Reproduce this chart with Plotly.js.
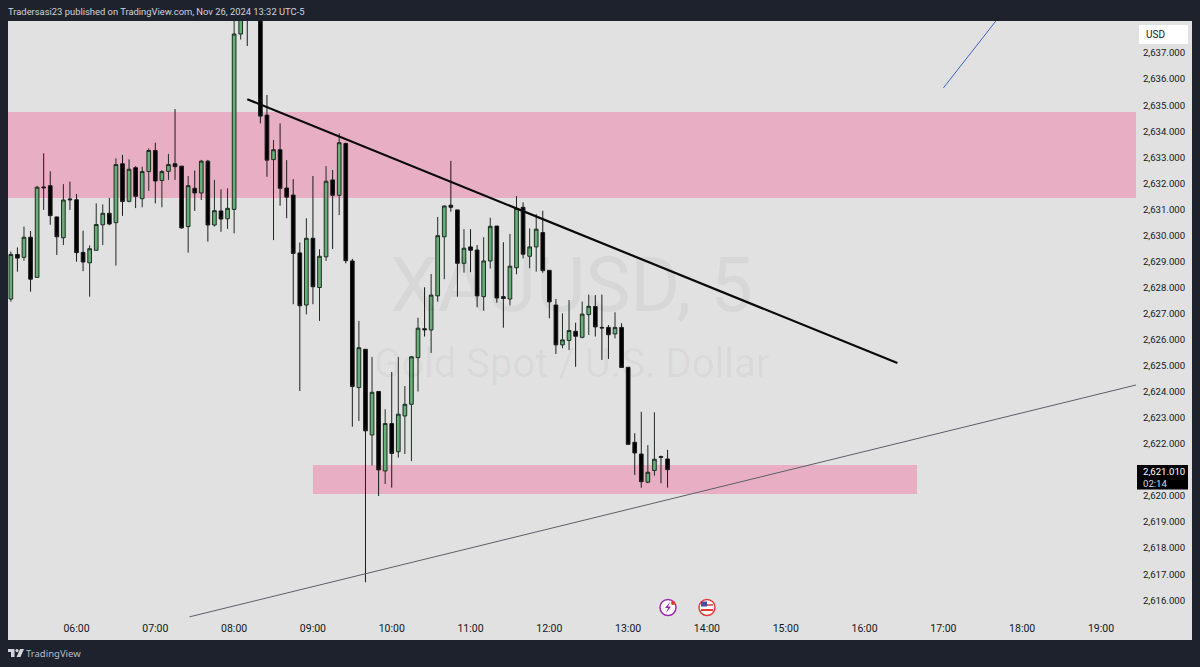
<!DOCTYPE html>
<html><head><meta charset="utf-8">
<script src="https://cdn.plot.ly/plotly-3.0.1.min.js"></script>
<style>html,body{margin:0;padding:0;background:#1e222d;overflow:hidden}</style></head>
<body><div id="chart" style="width:1200px;height:667px"></div>
<script>
const day = "2024-11-26 ";
const times = ["05:10","05:15","05:20","05:25","05:30","05:35","05:40","05:45","05:50","05:55",
"06:00","06:05","06:10","06:15","06:20","06:25","06:30","06:35","06:40","06:45","06:50","06:55",
"07:00","07:05","07:10","07:15","07:20","07:25","07:30","07:35","07:40","07:45","07:50","07:55",
"08:00","08:05","08:10","08:15","08:20","08:25","08:30","08:35","08:40","08:45","08:50","08:55",
"09:00","09:05","09:10","09:15","09:20","09:25","09:30","09:35","09:40","09:45","09:50","09:55",
"10:00","10:05","10:10","10:15","10:20","10:25","10:30","10:35","10:40","10:45","10:50","10:55",
"11:00","11:05","11:10","11:15","11:20","11:25","11:30","11:35","11:40","11:45","11:50","11:55",
"12:00","12:05","12:10","12:15","12:20","12:25","12:30","12:35","12:40","12:45","12:50","12:55",
"13:00","13:05","13:10","13:15","13:20","13:25","13:30"];
const opens = [2627.56,2629.27,2629.16,2629.93,2628.39,2631.86,2631.91,2630.71,2629.91,2631.40,
2631.37,2629.35,2628.95,2629.43,2630.41,2630.85,2630.49,2632.75,2631.31,2632.60,2631.41,2632.45,
2633.26,2632.11,2632.46,2632.75,2632.66,2630.34,2631.81,2631.63,2632.85,2630.40,2630.94,2630.64,
2631.00,2637.73,2639.60,2640.40,2639.50,2634.62,2632.91,2633.29,2631.82,2631.55,2629.33,2627.33,
2629.89,2628.00,2629.18,2632.13,2631.54,2633.53,2629.02,2624.16,2625.63,2622.34,2624.01,2620.96,
2622.78,2621.70,2623.07,2623.52,2625.31,2626.42,2626.37,2627.68,2629.95,2631.16,2630.98,2628.93,
2629.56,2629.44,2627.65,2629.02,2630.36,2627.65,2627.56,2628.76,2631.08,2629.20,2629.56,2630.11,
2628.66,2627.33,2625.80,2625.97,2626.32,2626.09,2626.96,2627.27,2626.47,2626.47,2626.22,2626.47,
2624.94,2622.06,2621.61,2620.53,2620.98,2621.51,2621.42];
const highs = [2629.38,2629.54,2630.34,2630.17,2631.90,2633.15,2632.46,2630.72,2631.97,2632.06,
2631.59,2630.18,2629.62,2631.23,2631.19,2631.44,2632.96,2633.09,2632.92,2632.66,2632.64,2633.34,
2633.56,2632.51,2633.13,2634.85,2632.66,2632.28,2632.49,2632.90,2632.90,2632.13,2631.77,2631.81,
2639.20,2639.60,2640.00,2640.80,2639.80,2635.39,2633.66,2634.30,2632.89,2632.16,2629.73,2630.66,
2632.28,2629.47,2632.66,2632.51,2633.92,2633.56,2629.10,2626.72,2625.64,2625.34,2624.03,2623.33,
2624.76,2625.34,2624.22,2625.36,2626.84,2628.01,2628.52,2630.71,2631.15,2632.86,2630.98,2630.24,
2630.24,2629.63,2629.93,2630.68,2630.36,2629.74,2630.06,2631.51,2631.27,2630.27,2630.82,2630.95,
2628.67,2627.56,2627.01,2627.52,2626.65,2627.46,2627.73,2627.71,2627.73,2626.56,2627.05,2626.63,
2624.94,2622.41,2623.23,2621.95,2623.21,2621.55,2621.77];
const lows = [2627.46,2628.61,2629.03,2627.84,2628.39,2630.98,2630.41,2629.25,2629.63,2630.98,
2628.99,2628.63,2627.65,2629.43,2629.63,2630.39,2628.84,2630.75,2631.27,2631.05,2631.08,2631.71,
2631.23,2631.08,2632.13,2632.13,2630.26,2629.34,2630.94,2631.36,2629.76,2630.34,2630.14,2630.25,
2630.08,2637.52,2637.27,2639.20,2634.30,2632.25,2629.82,2631.14,2630.66,2627.36,2624.03,2626.97,
2627.36,2626.72,2629.02,2629.48,2630.78,2628.93,2622.66,2622.88,2616.69,2621.17,2620.00,2620.46,
2620.32,2621.47,2621.61,2621.34,2624.01,2626.12,2625.49,2627.46,2628.32,2630.91,2627.65,2628.57,
2628.59,2627.24,2627.11,2628.73,2627.42,2626.46,2627.31,2628.51,2629.12,2628.74,2628.61,2628.57,
2626.82,2625.45,2625.67,2625.60,2624.96,2626.05,2626.18,2626.12,2625.22,2625.26,2626.05,2624.93,
2621.98,2620.81,2620.32,2620.49,2620.78,2620.49,2620.32];
const closes = [2629.27,2629.13,2629.93,2628.32,2631.85,2631.83,2630.76,2629.95,2631.36,2631.37,
2629.34,2628.98,2629.49,2630.42,2630.85,2630.44,2632.72,2631.30,2632.54,2631.50,2632.45,2633.26,
2632.09,2632.45,2632.72,2632.64,2630.29,2631.91,2631.63,2632.85,2630.40,2630.95,2630.63,2631.04,
2637.73,2639.20,2639.00,2639.60,2634.58,2632.89,2633.29,2631.81,2631.47,2629.31,2627.30,2629.89,
2628.03,2629.20,2632.08,2631.54,2633.56,2629.03,2624.20,2625.69,2622.50,2623.98,2621.00,2622.78,
2621.63,2623.14,2623.52,2625.34,2626.44,2626.38,2627.71,2629.99,2631.13,2631.08,2628.93,2629.51,
2629.43,2627.68,2629.02,2630.35,2627.60,2627.58,2628.82,2631.03,2629.28,2629.56,2630.24,2628.65,
2627.45,2625.80,2625.99,2626.35,2626.13,2626.98,2627.28,2626.49,2626.45,2626.19,2626.47,2624.93,
2621.98,2621.65,2620.55,2620.91,2621.41,2621.49,2621.01];

const priceTicks = [2616,2617,2618,2619,2620,2621,2622,2623,2624,2625,2626,2627,2628,2629,2630,2631,2632,2633,2634,2635,2636,2637];
const timeTicks = ["06:00","07:00","08:00","09:00","10:00","11:00","12:00","13:00","14:00","15:00","16:00","17:00","18:00","19:00"];
const axisStart = "05:07:50", axisEnd = "19:26:40";
const priceLow = 2615.24, priceHigh = 2638.23;

const upperZone = {t0:"05:07:50", t1:"19:26:40", p0:2631.44, p1:2634.74};
const lowerZone = {t0:"09:00", t1:"16:40", p0:2620.08, p1:2621.19};
const blackLineT = ["08:10","16:25"], blackLineP = [2635.23,2625.10];
const greyLineT = ["07:26","19:26:40"], greyLineP = [2615.36,2624.26];
const blueLineT = ["17:00","17:40"], blueLineP = [2635.66,2638.23];

const INK = "#131722", BG = "#e1e1e1", DARK = "#1e222d", PINK = "#e8aec3";
const L=8, R=1136, T=21, B=620;
const fx = x => (x-L)/(R-L), fy = y => (B-y)/(B-T);
const pth = (d) => d.replace(/(-?[\d.]+),(-?[\d.]+)/g,(m,a,b)=>fx(+a).toFixed(5)+","+fy(+b).toFixed(5));
const deco = (d,fill,line,w) => ({type:"path",xref:"paper",yref:"paper",path:pth(d),fillcolor:fill||"rgba(0,0,0,0)",line:{color:line||"rgba(0,0,0,0)",width:w||0},layer:"above"});
const circ = (cx,cy,r,fill,line,w) => ({type:"circle",xref:"paper",yref:"paper",x0:fx(cx-r),x1:fx(cx+r),y0:fy(cy+r),y1:fy(cy-r),fillcolor:fill,line:{color:line||"rgba(0,0,0,0)",width:w||0},layer:"above"});
const box = (x0,y0,x1,y1,fill,layer) => ({type:"rect",xref:"paper",yref:"paper",x0:fx(x0),x1:fx(x1),y0:fy(y1),y1:fy(y0),fillcolor:fill,line:{width:0},layer:layer||"above"});
const note = (x,y,text,size,color,anchor,font,extra) => Object.assign({xref:"paper",yref:"paper",x:fx(x),y:fy(y),text,showarrow:false,xanchor:anchor||"left",yanchor:"middle",font:{family:font||"Roboto",size,color}},extra||{});

const traces = [
 {type:"candlestick",x:times.map(t=>day+t),open:opens,high:highs,low:lows,close:closes,whiskerwidth:0,
  increasing:{line:{color:"#1c2e22",width:1},fillcolor:"#66ad76"},
  decreasing:{line:{color:"#1a1a1a",width:1},fillcolor:"#000000"},hoverinfo:"skip"},
 {type:"scatter",mode:"lines",x:blackLineT.map(t=>day+t),y:blackLineP,line:{color:"#0a0a0a",width:2.2},hoverinfo:"skip"},
 {type:"scatter",mode:"lines",x:greyLineT.map(t=>day+t),y:greyLineP,line:{color:"#5c5f6a",width:1},hoverinfo:"skip"},
 {type:"scatter",mode:"lines",x:blueLineT.map(t=>day+t),y:blueLineP,line:{color:"#3f62c4",width:1},hoverinfo:"skip"}
];

const shapes = [
 box(L,T,1192,640,BG,"below"),
 {type:"rect",xref:"x",yref:"y",x0:day+upperZone.t0,x1:day+upperZone.t1,y0:upperZone.p0,y1:upperZone.p1,fillcolor:PINK,line:{width:0},layer:"below"},
 {type:"rect",xref:"x",yref:"y",x0:day+lowerZone.t0,x1:day+lowerZone.t1,y0:lowerZone.p0,y1:lowerZone.p1,fillcolor:PINK,line:{width:0},layer:"below"},
 {type:"rect",xref:"paper",yref:"paper",x0:fx(1139),x1:fx(1188),y0:fy(44),y1:fy(25),fillcolor:"#ffffff",line:{width:0},layer:"above"},
 box(1137,465,1188,489.5,"#000000"),
 circ(668,607.5,8,"#ffffff","#9c27b0",1.5),
 deco("M670,602 L665,608 L668,608 L666,613 L671,606.5 L668,606.5 Z","#9c27b0"),
 circ(673,603,2,"#e53935"),
 circ(707,607.5,8,"#ffffff","#e53935",1.5),
 deco("M701,604 L713,604 L713,606 L701,606 Z","#e06a6a"),
 deco("M701,609 L713,609 L713,611 L701,611 Z","#e53935"),
 deco("M701,601.5 L707,601.5 L707,606.5 L701,606.5 Z","#3f51a5"),
 deco("M8,649 L14.5,649 L14.5,657 L11,657 L11,652 L8,652 Z","#d1d4dc"),
 circ(17,650.6,1.6,"#d1d4dc"),
 deco("M20,649 L24,649 L20.5,657 L16.5,657 Z","#d1d4dc")
];

const annotations = [
 note(571,285,"XAUUSD, 5",76,"rgba(0,0,0,0.042)","center"),
 note(571,364,"Gold Spot / U.S. Dollar",40,"rgba(0,0,0,0.042)","center"),
 note(6,11,"Tradersasi23 published on TradingView.com, Nov 26, 2024 13:32 UTC-5",9.4,"#d1d4dc","left","Roboto"),
 note(24,653.5,"TradingView",9.5,"#b8bcc8","left","Noto Sans"),
 note(1144,34.5,"USD",10,INK,"left"),
 note(1141,471,"2,621.010",9.6,"#ffffff","left"),
 note(1141,483,"02:14",9.6,"#d8d8d8","left")
];

const layout = {
 width:1200,height:667,autosize:false,showlegend:false,boxgap:0.2,
 paper_bgcolor:DARK,plot_bgcolor:BG,
 margin:{l:L,r:1200-R,t:T,b:667-B,pad:0},
 font:{family:"Roboto",size:10,color:INK},
 xaxis:{type:"date",range:[day+axisStart,day+axisEnd],tickmode:"array",tickvals:timeTicks.map(t=>day+t),ticktext:timeTicks,
  showgrid:false,zeroline:false,showline:false,ticks:"",ticklen:0,
  tickfont:{family:"Roboto",size:10.5,color:INK},rangeslider:{visible:false},fixedrange:true},
 yaxis:{side:"right",range:[priceLow,priceHigh],tickmode:"array",tickvals:priceTicks,tickformat:",.3f",
  showgrid:false,zeroline:false,showline:false,ticks:"outside",ticklen:4,tickcolor:"rgba(0,0,0,0)",
  tickfont:{family:"Roboto",size:9.6,color:INK},fixedrange:true},
 shapes,annotations
};
Plotly.newPlot("chart",traces,layout,{displayModeBar:false,staticPlot:true});
</script></body></html>
